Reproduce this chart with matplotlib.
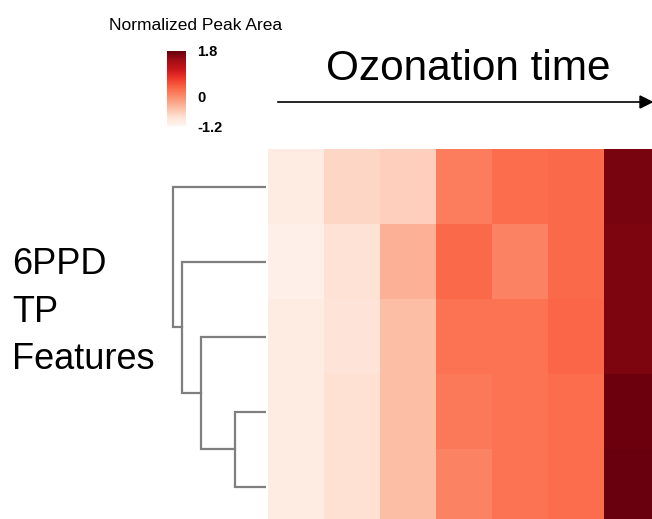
import numpy as np
import matplotlib.pyplot as plt

plt.rcParams['font.family'] = ['Liberation Sans', 'DejaVu Sans']

# normalized peak area, rows = TP features (dendrogram order), cols = ozonation time points
values = np.array([
    [-1.02, -0.72, -0.66, 0.12, 0.27, 0.30, 1.69],
    [-1.11, -0.87, -0.36, 0.30, 0.06, 0.30, 1.67],
    [-1.02, -0.90, -0.48, 0.21, 0.21, 0.33, 1.67],
    [-1.02, -0.84, -0.48, 0.15, 0.21, 0.27, 1.76],
    [-1.02, -0.84, -0.48, 0.06, 0.21, 0.27, 1.80],
])
vmin, vmax = -1.2, 1.8
cbar_ticks = [1.8, 0, -1.2]

# linkage: (left node, right node, height); leaves 0..4, new nodes 5..8
links = [(3, 4, 31), (2, 5, 65), (1, 6, 84), (0, 7, 93)]

W, H = 652, 519
fig = plt.figure(figsize=(W / 100, H / 100), dpi=100)

def box(x0, y0, x1, y1):
    return [x0 / W, 1 - y1 / H, (x1 - x0) / W, (y1 - y0) / H]

# heatmap
ax = fig.add_axes(box(268, 149, 660, 524))
ax.imshow(values, cmap='Reds', vmin=vmin, vmax=vmax, aspect='auto',
          interpolation='nearest')
ax.set_xlim(-0.5, values.shape[1] - 0.5)
ax.set_ylim(values.shape[0] - 0.5, -0.5)
ax.axis('off')

# dendrogram
axd = fig.add_axes(box(170, 149, 266, 524))
pos = {i: (float(i), 0.0) for i in range(values.shape[0])}
n = values.shape[0]
for k, (a, b, h) in enumerate(links):
    ya, ha = pos[a]
    yb, hb = pos[b]
    axd.plot([ha, h, h, hb], [ya, ya, yb, yb], color='#7f7f7f', lw=1.6,
             solid_joinstyle='miter')
    pos[n + k] = ((ya + yb) / 2, h)
axd.set_xlim(96, 0)
axd.set_ylim(values.shape[0] - 0.5, -0.5)
axd.axis('off')

# colorbar
cax = fig.add_axes(box(167, 51, 186, 126))
grad = np.linspace(vmax, vmin, 200).reshape(-1, 1)
cax.imshow(grad, cmap='Reds', vmin=vmin, vmax=vmax, aspect='auto',
           extent=[0, 1, vmin, vmax])
cax.set_xticks([])
cax.yaxis.tick_right()
cax.set_yticks(cbar_ticks)
cax.set_yticklabels([str(t) for t in cbar_ticks], fontsize=10.5, fontweight='bold')
cax.tick_params(axis='y', length=0, pad=8)
for s in cax.spines.values():
    s.set_visible(False)

fig.text(196 / W, 1 - 25 / H, 'Normalized Peak Area', ha='center', va='center',
         fontsize=12.5)

# ozonation time arrow
fig.text(468 / W, 1 - 80 / H, 'Ozonation time', ha='center', va='baseline',
         fontsize=30.5)
fig.add_artist(plt.Line2D([278 / W, 1.0], [1 - 102 / H] * 2, color='black', lw=1.2,
                          transform=fig.transFigure))
fig.patches.append(plt.Polygon([[640 / W, 1 - 96 / H], [652 / W, 1 - 102 / H],
                                [640 / W, 1 - 108 / H]], closed=True, color='black',
                               transform=fig.transFigure, figure=fig))

fig.text(12 / W, 1 - 312 / H, '6PPD\nTP\nFeatures', ha='left', va='center',
         fontsize=26, linespacing=1.48)

fig.savefig('out.png', dpi=100)
